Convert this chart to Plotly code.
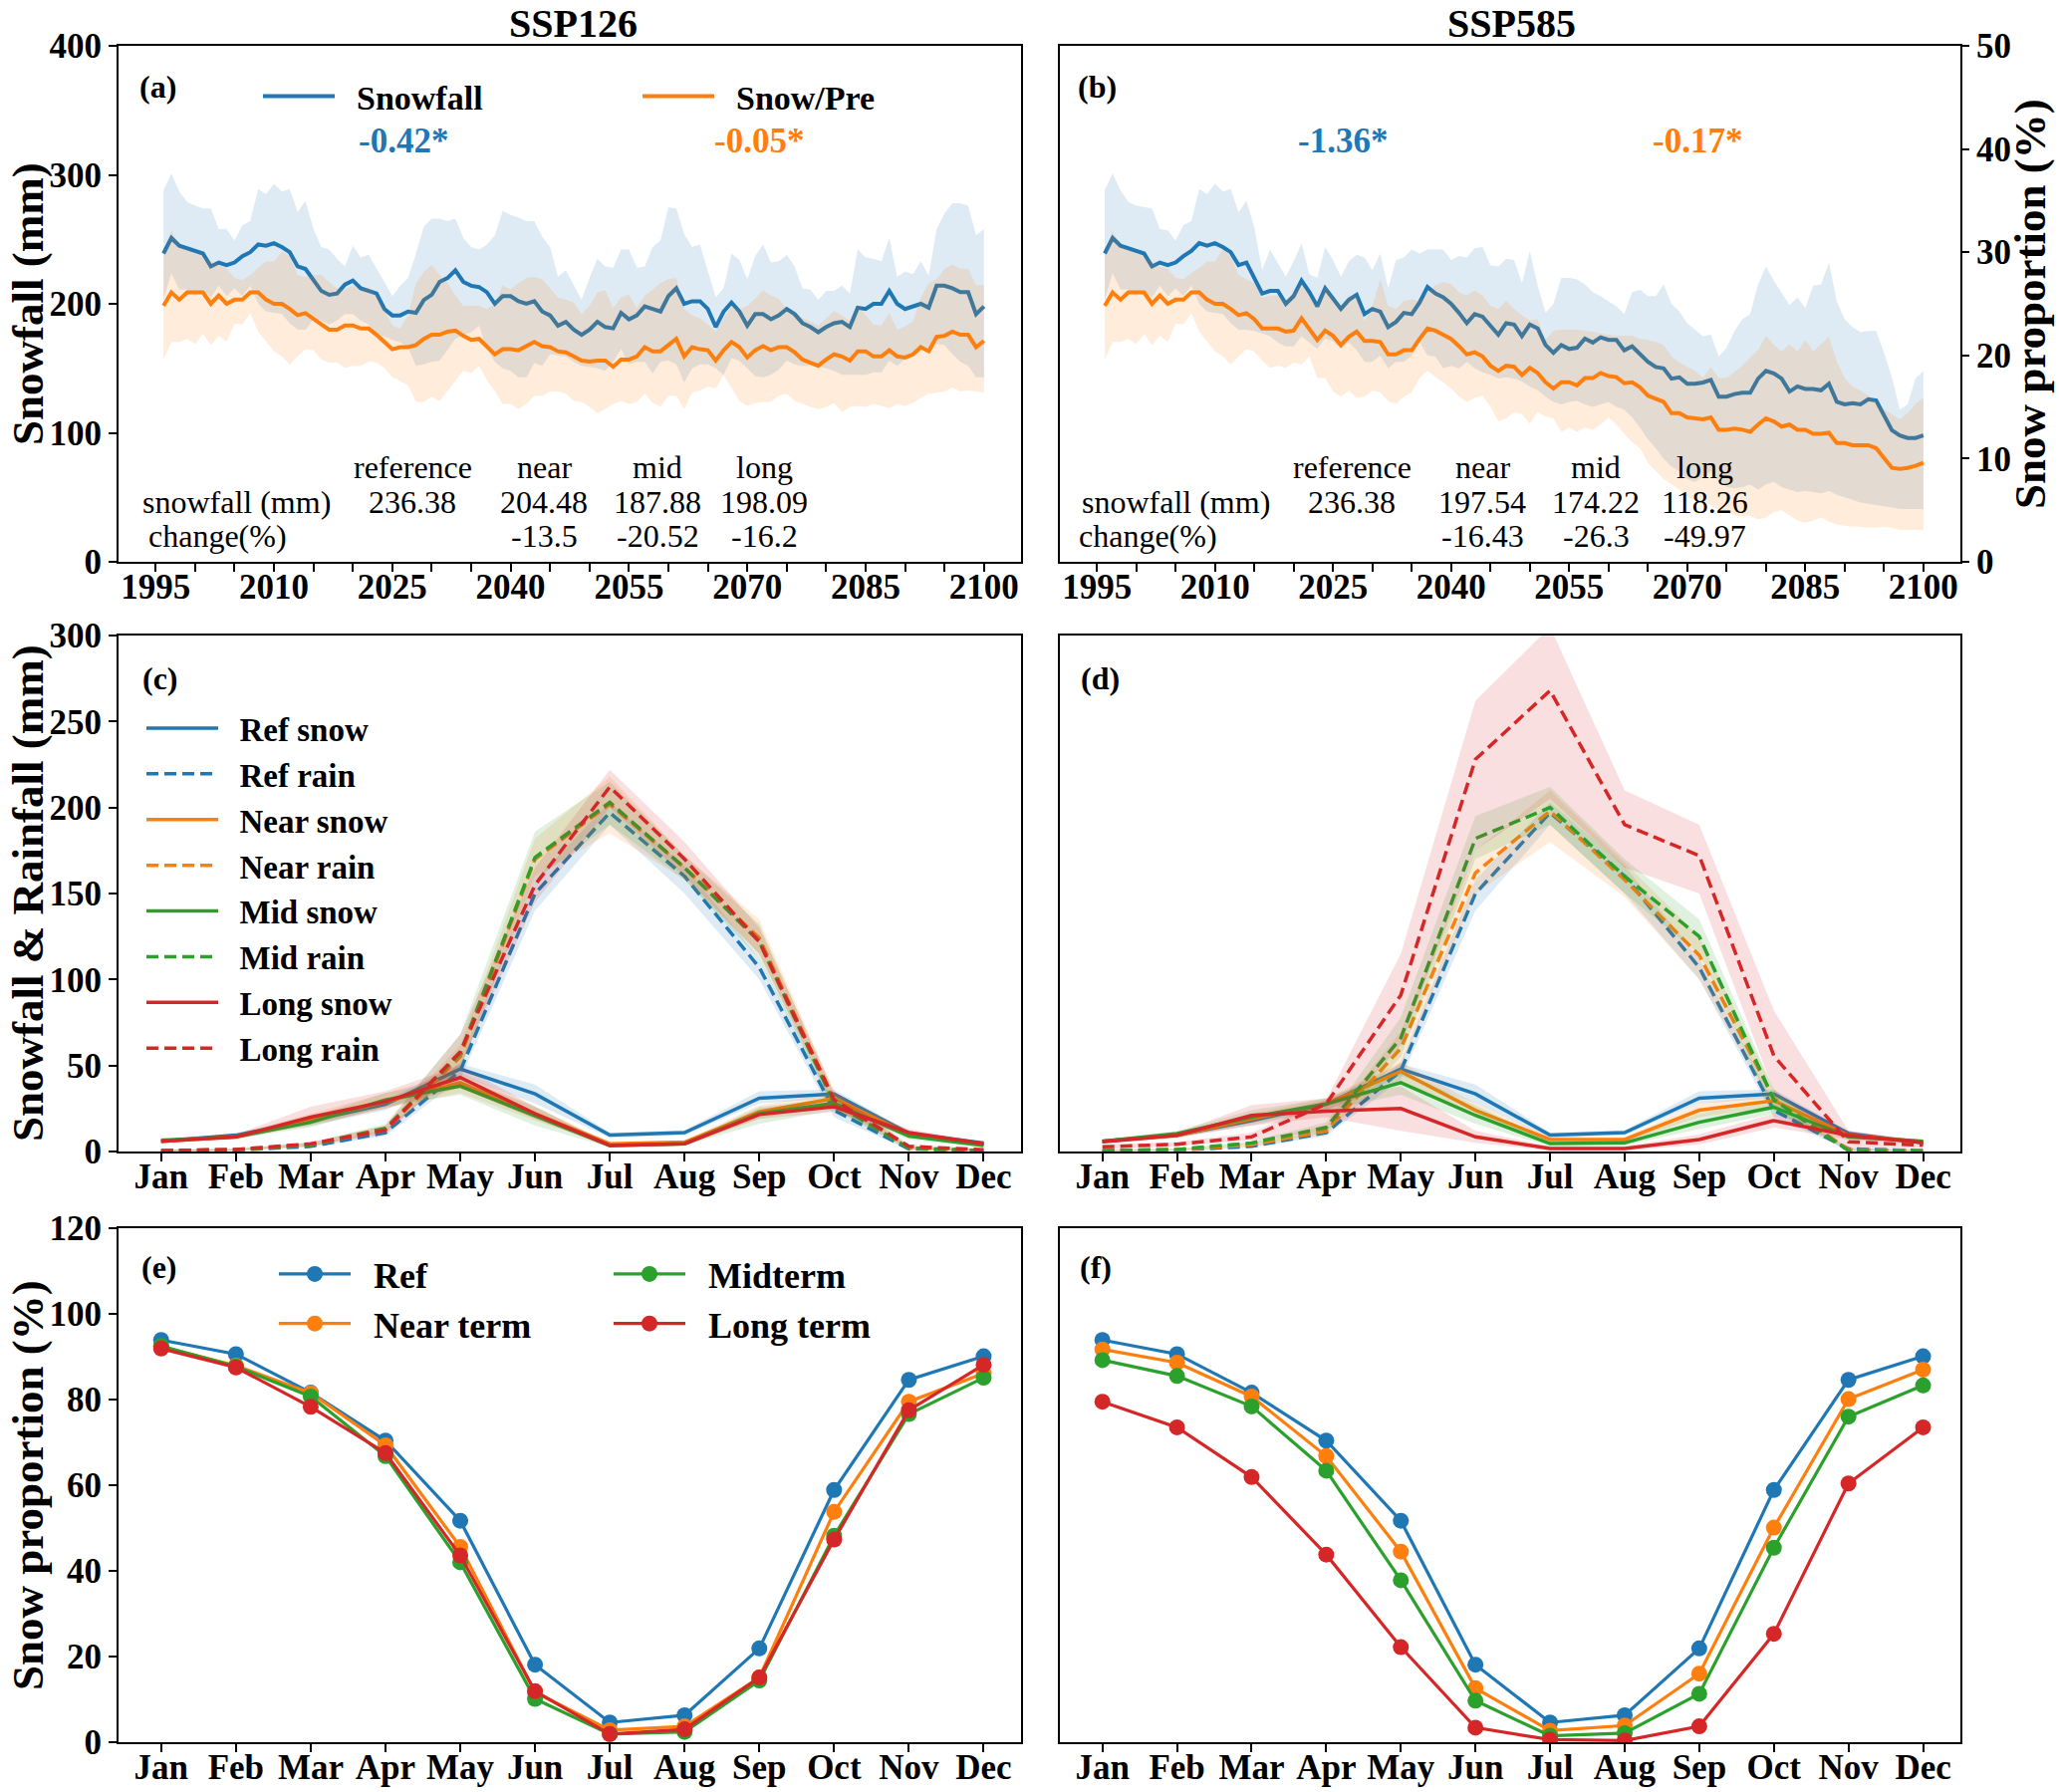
import plotly.graph_objects as go

W, H = 2067, 1799
FONT = "Liberation Serif"
C0, C1, C2, C3 = "#1f77b4", "#ff7f0e", "#2ca02c", "#d62728"

# ---------------- data ----------------
YEARS = list(range(1996, 2101))
MONTHS = ["Jan", "Feb", "Mar", "Apr", "May", "Jun", "Jul", "Aug", "Sep", "Oct", "Nov", "Dec"]
MONTH_POS = list(range(1, 13))

# (a) SSP126 annual snowfall (mm): mean / low / high
A_SNOW_MEAN = [239,251,245,243,241,239,229,232,230,232, 237,240,246,245,247,244,240,229,227,219,
               210,207,208,215,218,212,210,208,196,191, 191,194,193,203,207,217,220,226,217,214,
               213,209,200,206,206,202,200,202,194,191, 183,186,180,176,
               180,186,182,181,193,188,191,198,196,194, 206,212,200,202,202,196,182,194,201,194,
               183,192,192,188,191,196,192,185,182,178, 182,185,186,182,197,196,200,200,210,200,
               196,198,200,197,214,214,212,209,209,192, 198]
A_SNOW_HI = [288,301,287,279,276,274,274,258,258,249, 261,264,289,285,293,287,289,271,280,258,
             244,242,235,229,245,236,238,228,217,206, 214,220,239,260,266,266,264,266,251,244,
             242,246,253,272,269,267,264,264,252,244, 221,226,214,203,
             220,235,229,228,242,242,228,229,244,249, 275,274,254,244,246,225,205,212,239,234,
             219,237,246,232,233,238,229,212,211,203, 210,210,214,208,242,236,235,233,251,221,
             225,223,233,222,258,270,278,278,276,253, 258]
A_SNOW_LO = [203,224,211,211,206,211,205,214,206,212, 206,214,200,194,193,192,185,180,180,188,
             187,184,187,192,192,187,184,176,175,172, 170,166,152,153,155,156,164,173,176,178,
             183,165,155,150,148,143,143,154,152,161, 160,159,155,152,
             151,150,148,155,165,153,155,155,146,155, 156,153,139,150,153,153,150,145,158,156,
             150,144,143,145,149,156,153,152,152,152, 150,148,145,145,145,145,147,147,156,152,
             157,161,165,164,169,168,161,155,152,143, 143]
# (a) SSP126 snow / precipitation (%)
A_RATIO_MEAN = [24.8,26.1,25.4,26.1,26.1,26.1,25.0,25.8,25.0,25.4, 25.4,26.1,26.1,25.4,25.0,25.0,24.5,23.9,24.1,23.5,
                23.0,22.5,22.5,22.9,22.9,22.6,22.6,22.0,21.3,20.6, 20.8,20.8,21.0,21.6,22.0,22.0,22.3,22.4,21.9,21.5,
                21.6,20.8,20.1,20.6,20.6,20.5,20.9,21.3,20.9,20.8, 20.4,20.3,19.9,19.5,
                19.4,19.5,19.5,18.9,19.6,19.6,19.9,20.8,20.4,20.4, 21.0,21.6,19.9,20.8,20.6,20.5,19.5,20.5,21.3,20.8,
                19.8,20.5,20.9,20.5,20.8,20.8,20.3,19.6,19.3,19.0, 19.6,20.1,19.9,19.5,20.4,20.4,19.9,19.9,20.5,19.9,
                19.8,20.1,20.8,20.4,21.8,21.9,22.3,22.0,22.0,20.8, 21.4]
A_RATIO_HI = [29.6,32.1,30.5,30.3,29.9,29.6,29.1,28.8,28.4,27.5, 27.3,27.8,28.5,29.1,29.1,30.1,29.6,27.8,27.6,27.8,
              27.8,27.1,26.5,26.4,26.8,26.4,26.6,25.8,24.5,22.9, 22.6,23.9,27.0,28.1,28.8,27.8,27.0,25.8,24.8,24.8,
              24.8,24.5,25.0,26.8,26.4,27.0,27.5,27.6,27.4,26.5, 25.6,25.4,25.1,24.0,
              24.8,26.1,26.3,24.6,25.6,25.9,24.6,25.8,26.4,27.0, 27.4,27.5,24.5,23.9,23.6,23.0,22.3,23.5,24.8,24.5,
              24.8,25.5,26.3,25.8,25.5,24.5,24.3,23.6,23.3,22.9, 23.6,24.3,23.9,23.3,24.8,23.9,23.0,22.9,24.1,22.5,
              22.8,23.3,25.6,27.0,27.4,28.4,28.8,28.4,28.4,26.8, 26.8]
A_RATIO_LO = [19.6,21.3,21.3,21.6,21.1,22.1,21.0,21.9,21.3,23.1, 23.0,24.1,22.3,21.4,20.4,19.9,19.1,19.9,20.6,20.5,
              19.6,19.3,19.3,18.8,19.0,19.0,19.4,19.3,18.8,17.9, 17.5,17.1,15.5,15.5,16.0,15.6,16.5,17.5,18.5,18.3,
              19.0,17.6,16.5,15.3,15.3,14.8,15.3,16.1,16.1,16.5, 16.5,16.3,15.6,15.5,
              15.0,14.4,14.8,15.3,15.6,15.3,15.5,16.3,15.4,15.0, 16.1,16.1,14.8,16.4,16.6,17.0,16.8,18.1,16.8,15.6,
              15.1,15.4,15.5,15.5,16.1,16.3,15.6,15.3,15.0,14.8, 15.0,15.4,14.5,15.0,15.1,15.0,15.3,15.1,14.9,15.3,
              15.1,15.4,15.9,16.3,16.4,16.5,16.9,16.5,16.6,16.5, 16.4]

# (b) SSP585 annual snowfall (mm)
B_SNOW_MEAN = [239,251,245,243,241,239,229,232,230,232, 237,241,247,245,247,244,240,230,232,220,
               208,210,210,200,206,218,209,198,212,204, 196,203,207,192,196,194,182,186,193,192,
               201,213,208,205,200,193,185,192,190,183, 176,185,184,
               175,184,181,168,162,168,165,166,173,170, 174,172,172,164,167,161,155,151,150,142,
               143,138,138,139,141,128,128,130,131,131, 142,148,146,142,132,136,134,134,133,138,
               124,122,123,122,126,125,114,102,98,96, 96,98]
B_SNOW_HI = [288,301,288,279,276,275,274,258,257,249, 261,264,289,285,293,287,289,271,280,259,
             226,242,232,221,233,247,223,220,244,234, 221,233,238,236,226,239,212,234,236,242,
             239,242,242,242,234,237,236,243,244,230, 229,235,234,
             216,241,214,193,200,220,220,219,215,209, 206,202,198,192,209,211,206,206,215,200,
             194,185,180,175,176,159,166,179,188,192, 215,229,218,209,199,205,197,214,215,232,
             202,188,182,178,179,179,162,143,118,122, 142,148]
B_SNOW_LO = [203,224,211,211,206,211,205,214,206,212, 206,214,200,194,193,192,185,180,180,
             179,177,175,170,167,167,175,170,165,173, 171,165,170,164,155,155,160,150,155,155,
             160,170,160,159,150,152,150,155,150,147, 145,142,143,142,
             140,136,133,128,124,122,124,125,122,120, 122,124,120,118,112,104,95,88,80,74,
             70,64,62,66,70,62,58,57,58,60, 56,60,62,58,56,54,55,54,53,55,
             52,50,48,46,45,44,43,42,41,41, 41,41]
# (b) SSP585 snow / precipitation (%)
B_RATIO_MEAN = [24.8,26.1,25.4,26.1,26.1,26.1,25.0,25.8,25.0,25.4, 25.4,26.1,26.1,25.4,25.0,25.0,24.5,23.9,24.1,23.5,
                22.6,22.6,22.6,22.3,22.4,23.6,22.6,21.5,22.4,21.9, 21.0,21.8,22.3,21.4,21.4,21.3,20.1,20.1,20.5,20.5,
                21.6,22.6,22.4,22.0,21.6,20.9,20.1,20.3,19.9,19.0, 18.5,19.0,18.9,
                18.1,18.8,18.3,17.4,16.8,17.4,17.4,17.1,17.8,17.8, 18.3,18.0,17.9,17.3,17.4,16.9,16.1,15.8,15.5,14.4,
                14.4,14.0,13.9,13.8,14.0,12.8,12.8,12.9,12.8,12.6, 13.3,13.9,13.6,13.1,13.3,12.8,12.8,12.4,12.4,12.5,
                11.5,11.5,11.3,11.3,11.3,11.0,10.1,9.1,9.0,9.1, 9.3,9.6]
B_RATIO_HI = [29.6,32.1,30.5,30.3,29.9,29.6,29.1,28.6,28.4,27.5, 27.4,28.0,28.5,29.1,29.1,30.3,29.6,27.8,27.4,27.0,
              25.6,25.8,25.8,25.3,26.1,27.0,25.8,24.8,26.8,25.6, 24.8,25.8,25.8,23.3,24.8,27.4,24.8,24.5,25.3,25.4,
              25.3,26.1,26.8,27.1,26.9,26.1,25.8,26.3,25.8,24.8, 24.5,25.3,24.5,
              23.9,23.4,23.5,21.5,22.4,22.5,22.5,22.5,22.4,22.3, 22.1,22.0,21.9,21.9,21.9,21.6,21.5,21.3,21.0,19.9,
              19.3,18.9,18.5,17.8,18.9,17.8,17.8,18.4,19.0,19.8, 20.5,21.9,21.0,20.4,21.1,20.4,21.5,20.4,21.1,21.8,
              19.4,17.8,17.0,16.6,16.1,15.6,14.8,14.3,13.8,14.4, 15.3,15.9]
B_RATIO_LO = [19.6,21.3,21.3,21.6,21.1,22.1,21.0,21.9,21.3,23.1, 23.0,24.1,22.3,21.4,20.4,19.9,19.1,19.9,20.6,
              20.4,19.5,18.8,19.0,18.8,19.3,19.1,19.9,17.8,17.8, 16.5,16.0,16.6,15.9,16.0,16.6,16.4,15.6,15.3,16.0,
              16.4,17.8,18.5,17.9,17.4,16.8,16.0,15.5,15.9,16.1, 15.0,13.6,13.9,14.5,
              14.3,13.4,14.5,14.1,13.9,12.6,13.0,12.6,13.0,12.8, 13.3,14.0,13.3,12.4,11.6,11.0,9.6,8.8,8.0,7.5,
              7.0,6.3,6.0,5.8,5.5,5.0,4.8,4.5,4.4,4.5, 4.1,4.3,4.8,5.0,4.5,4.0,3.8,4.0,4.3,3.9,
              3.6,3.5,3.4,3.4,3.3,3.3,3.4,3.3,3.1,3.1, 3.1,3.1]

# (c)/(d) monthly snowfall & rainfall (mm)
REF_SNOW = [6, 9.5, 18, 27.5, 48, 33.5, 9.5, 11, 31, 33.5, 10.5, 5]
REF_SNOW_LO = [5, 8.5, 15, 24, 44, 28, 8, 9.5, 28, 31, 9, 4]
REF_SNOW_HI = [7, 10.5, 20, 30, 51, 39, 11, 12.5, 35, 36, 12, 6]
REF_RAIN = [0.5, 0.8, 3, 11, 47, 150, 197, 160, 107, 24, 1.5, 0.5]
REF_RAIN_LO = [0, 0.5, 2.5, 9, 42, 140, 190, 150, 100, 20, 0.8, 0]
REF_RAIN_HI = [1, 1.2, 3.5, 12.5, 52, 158, 203, 166, 112, 28, 2.2, 1]

NEAR126_SNOW = [6, 8.5, 18, 29, 40, 22, 4.5, 5.5, 23, 31, 10, 4]
NEAR126_SNOW_LO = [5, 7.5, 15, 25, 34, 18, 3.5, 4.5, 19, 28, 8.5, 3]
NEAR126_SNOW_HI = [7, 10, 22, 34, 46, 26, 5.5, 6.5, 27, 34, 12, 5]
NEAR126_RAIN = [0.5, 1, 4, 13, 55, 170, 202, 165, 124, 30, 2, 0.5]
NEAR126_RAIN_LO = [0, 0.5, 3, 11, 48, 160, 185, 158, 115, 25, 1, 0]
NEAR126_RAIN_HI = [1, 1.5, 5, 15, 62, 182, 218, 172, 135, 35, 3, 1]
MID126_SNOW = [6.5, 8.5, 17, 30, 38, 21, 3.5, 4.5, 22, 28, 9, 3.5]
MID126_SNOW_LO = [5, 7.5, 14, 26, 33, 15, 2.5, 3.5, 16, 24, 7, 2.5]
MID126_SNOW_HI = [8, 10, 20, 34, 43, 26, 4.5, 5.5, 26, 31, 11, 4.5]
MID126_RAIN = [0.5, 1, 4, 13.5, 57, 171, 203, 165, 122, 28, 2, 0.5]
MID126_RAIN_LO = [0, 0.5, 3, 12, 48, 158, 190, 158, 112, 24, 1, 0]
MID126_RAIN_HI = [1, 1.5, 5, 16, 68, 186, 215, 172, 132, 33, 3, 1]
LONG126_SNOW = [6, 8.5, 20, 29, 43, 22, 3.5, 4.5, 21.5, 26, 11, 4.5]
LONG126_SNOW_LO = [5, 7, 16, 25, 37, 19, 2.5, 3.5, 19, 23, 9, 3.5]
LONG126_SNOW_HI = [7, 10, 26, 35, 50, 26, 4.5, 5.5, 25, 30, 13, 5.5]
LONG126_RAIN = [0.5, 1.2, 4.5, 12.5, 58, 155, 212, 170, 122, 30, 3, 1]
LONG126_RAIN_LO = [0, 0.8, 3.5, 10, 50, 145, 200, 160, 115, 26, 2, 0.5]
LONG126_RAIN_HI = [1, 1.6, 5.5, 15, 68, 165, 222, 180, 130, 35, 4, 1.5]

NEAR585_SNOW = [6, 9.4, 19, 27.7, 46.5, 24, 7, 7, 24, 29.6, 9.4, 5.6]
NEAR585_SNOW_LO = [5, 8, 16, 24, 40, 20, 5.5, 5.5, 20, 26, 8, 4.5]
NEAR585_SNOW_HI = [7, 11, 22, 31, 52, 28, 8.5, 8.5, 28, 33, 11, 6.5]
NEAR585_RAIN = [0.5, 1, 4, 12, 60, 162, 198, 158, 114, 31, 1, 0.5]
NEAR585_RAIN_LO = [0, 0.5, 3, 10, 50, 150, 180, 148, 100, 25, 0, 0]
NEAR585_RAIN_HI = [1, 1.5, 5, 15, 70, 175, 210, 168, 125, 36, 2, 1]
MID585_SNOW = [6, 10.4, 20, 27.7, 40, 21, 4.6, 5, 17, 25.8, 8.5, 6]
MID585_SNOW_LO = [5, 8, 17, 24, 33, 16, 3, 3.5, 13, 22, 7, 5]
MID585_SNOW_HI = [7, 12, 24, 31, 47, 27, 6, 6.5, 22, 30, 10, 7]
MID585_RAIN = [0.5, 1.2, 5, 14, 66, 182, 200, 160, 125, 30, 0.5, 0.3]
MID585_RAIN_LO = [0, 0.7, 4, 11, 55, 170, 190, 150, 115, 24, 0, 0]
MID585_RAIN_HI = [1, 1.7, 6, 17, 78, 195, 212, 170, 135, 36, 1.5, 1]
LONG585_SNOW = [5.6, 9.4, 21, 23.5, 25, 8.5, 1.7, 1.7, 7, 18, 9.4, 5.2]
LONG585_SNOW_LO = [4.5, 8, 15, 20, 12, 5, 0.5, 0.5, 4, 14, 7, 4]
LONG585_SNOW_HI = [7, 11, 27, 31, 38, 12, 3, 3, 10, 22, 12, 6.5]
LONG585_RAIN = [2.7, 4.2, 8.5, 27.7, 91, 228, 268, 190, 172, 55.6, 5.6, 3.7]
LONG585_RAIN_LO = [1.5, 3, 6.5, 12, 62, 175, 205, 165, 150, 35, 2, 2]
LONG585_RAIN_HI = [4, 5.5, 11, 30, 115, 262, 305, 210, 190, 82, 12, 5]

# (e)/(f) monthly snow proportion (%)
REF_PROP = [93.9, 90.6, 81.6, 70.4, 51.7, 18.1, 4.6, 6.3, 21.9, 58.9, 84.6, 90.1]
E_NEAR = [92.4, 87.9, 81.5, 69.3, 45.6, 11.7, 2.8, 3.7, 15.1, 53.8, 79.5, 86.1]
E_MID = [92.5, 87.7, 80.7, 66.8, 42.0, 10.1, 1.9, 2.4, 14.4, 48.2, 76.6, 85.1]
E_LONG = [91.9, 87.5, 78.3, 67.5, 43.6, 11.9, 1.9, 3.0, 15.1, 47.3, 77.5, 88.1]
F_NEAR = [91.7, 88.6, 80.7, 66.8, 44.5, 12.6, 2.7, 3.9, 16.0, 50.1, 80.1, 87.0]
F_MID = [89.2, 85.5, 78.4, 63.4, 37.8, 9.7, 1.5, 2.1, 11.3, 45.4, 76.0, 83.3]
F_LONG = [79.5, 73.5, 61.9, 43.8, 22.2, 3.4, 0.6, 0.4, 3.7, 25.3, 60.4, 73.5]

# table texts
TABLE_HEAD = ["reference", "near", "mid", "long"]
A_TABLE_SNOW = ["236.38", "204.48", "187.88", "198.09"]
A_TABLE_CHG = ["", "-13.5", "-20.52", "-16.2"]
B_TABLE_SNOW = ["236.38", "197.54", "174.22", "118.26"]
B_TABLE_CHG = ["", "-16.43", "-26.3", "-49.97"]
A_TRENDS = ["-0.42*", "-0.05*"]
B_TRENDS = ["-1.36*", "-0.17*"]

for arr in [A_SNOW_MEAN, A_SNOW_HI, A_SNOW_LO, A_RATIO_MEAN, A_RATIO_HI, A_RATIO_LO,
            B_SNOW_MEAN, B_SNOW_HI, B_SNOW_LO, B_RATIO_MEAN, B_RATIO_HI, B_RATIO_LO]:
    assert len(arr) == len(YEARS), len(arr)

# ---------------- helpers ----------------
def rgba(h, a):
    h = h.lstrip('#')
    return "rgba(%d,%d,%d,%s)" % (int(h[0:2], 16), int(h[2:4], 16), int(h[4:6], 16), a)

def px(xp):
    return xp / W

def py(yp):
    return 1 - yp / H

fig = go.Figure()

def band(x, lo, hi, color, xa, ya, alpha=0.15):
    fig.add_trace(go.Scatter(x=list(x) + list(x)[::-1], y=list(hi) + list(lo)[::-1],
                             fill='toself', fillcolor=rgba(color, alpha), mode='lines',
                             line=dict(width=0), hoverinfo='skip', showlegend=False,
                             xaxis=xa, yaxis=ya))

def line(x, y, color, xa, ya, name=None, dash='solid', width=4, legend=None, markers=False):
    kw = dict(x=x, y=y, mode='lines+markers' if markers else 'lines',
              line=dict(color=color, width=width, dash=dash), xaxis=xa, yaxis=ya,
              name=name, showlegend=legend is not None)
    if markers:
        kw['marker'] = dict(size=16, color=color)
    if legend is not None:
        kw['legend'] = legend
    fig.add_trace(go.Scatter(**kw))

DASH = "12px,6px"
NB = "\u00a0\u00a0"

# (a)
band(YEARS, A_SNOW_LO, A_SNOW_HI, C0, 'x', 'y')
line(YEARS, A_SNOW_MEAN, C0, 'x', 'y', name=NB + 'Snowfall', legend='legend')
band(YEARS, A_RATIO_LO, A_RATIO_HI, C1, 'x', 'y2')
line(YEARS, A_RATIO_MEAN, C1, 'x', 'y2', name=NB + 'Snow/Pre', legend='legend2')
# (b)
band(YEARS, B_SNOW_LO, B_SNOW_HI, C0, 'x2', 'y3')
line(YEARS, B_SNOW_MEAN, C0, 'x2', 'y3')
band(YEARS, B_RATIO_LO, B_RATIO_HI, C1, 'x2', 'y4')
line(YEARS, B_RATIO_MEAN, C1, 'x2', 'y4')

# (c) and (d)
sets_c = [
    ("Ref", C0, REF_SNOW, REF_SNOW_LO, REF_SNOW_HI, REF_RAIN, REF_RAIN_LO, REF_RAIN_HI),
    ("Near", C1, NEAR126_SNOW, NEAR126_SNOW_LO, NEAR126_SNOW_HI, NEAR126_RAIN, NEAR126_RAIN_LO, NEAR126_RAIN_HI),
    ("Mid", C2, MID126_SNOW, MID126_SNOW_LO, MID126_SNOW_HI, MID126_RAIN, MID126_RAIN_LO, MID126_RAIN_HI),
    ("Long", C3, LONG126_SNOW, LONG126_SNOW_LO, LONG126_SNOW_HI, LONG126_RAIN, LONG126_RAIN_LO, LONG126_RAIN_HI),
]
sets_d = [
    ("Ref", C0, REF_SNOW, REF_SNOW_LO, REF_SNOW_HI, REF_RAIN, REF_RAIN_LO, REF_RAIN_HI),
    ("Near", C1, NEAR585_SNOW, NEAR585_SNOW_LO, NEAR585_SNOW_HI, NEAR585_RAIN, NEAR585_RAIN_LO, NEAR585_RAIN_HI),
    ("Mid", C2, MID585_SNOW, MID585_SNOW_LO, MID585_SNOW_HI, MID585_RAIN, MID585_RAIN_LO, MID585_RAIN_HI),
    ("Long", C3, LONG585_SNOW, LONG585_SNOW_LO, LONG585_SNOW_HI, LONG585_RAIN, LONG585_RAIN_LO, LONG585_RAIN_HI),
]
for (nm, col, s, slo, shi, r, rlo, rhi) in sets_c:
    band(MONTH_POS, slo, shi, col, 'x3', 'y5')
    line(MONTH_POS, s, col, 'x3', 'y5', name=NB + nm + ' snow', width=3.5, legend='legend3')
    band(MONTH_POS, rlo, rhi, col, 'x3', 'y5')
    line(MONTH_POS, r, col, 'x3', 'y5', name=NB + nm + ' rain', dash=DASH, width=3.5, legend='legend3')
for (nm, col, s, slo, shi, r, rlo, rhi) in sets_d:
    band(MONTH_POS, slo, shi, col, 'x4', 'y6')
    line(MONTH_POS, s, col, 'x4', 'y6', width=3.5)
    band(MONTH_POS, rlo, rhi, col, 'x4', 'y6')
    line(MONTH_POS, r, col, 'x4', 'y6', dash=DASH, width=3.5)

# (e) and (f)
line(MONTH_POS, REF_PROP, C0, 'x5', 'y7', name=NB + 'Ref', width=3.2, legend='legend4', markers=True)
line(MONTH_POS, E_NEAR, C1, 'x5', 'y7', name=NB + 'Near term', width=3.2, legend='legend4', markers=True)
line(MONTH_POS, E_MID, C2, 'x5', 'y7', name=NB + 'Midterm', width=3.2, legend='legend5', markers=True)
line(MONTH_POS, E_LONG, C3, 'x5', 'y7', name=NB + 'Long term', width=3.2, legend='legend5', markers=True)
line(MONTH_POS, REF_PROP, C0, 'x6', 'y8', width=3.2, markers=True)
line(MONTH_POS, F_NEAR, C1, 'x6', 'y8', width=3.2, markers=True)
line(MONTH_POS, F_MID, C2, 'x6', 'y8', width=3.2, markers=True)
line(MONTH_POS, F_LONG, C3, 'x6', 'y8', width=3.2, markers=True)

# ---------------- layout ----------------
XA = [px(119), px(1025)]
XB = [px(1064), px(1968)]
Y1 = [py(564), py(46)]
Y2 = [py(1156), py(638)]
Y3 = [py(1749), py(1233)]
TICKFONT = dict(family=FONT, size=35, color='black', weight='bold')

def ax(**kw):
    d = dict(showline=True, mirror=True, linecolor='black', linewidth=2, ticks='outside',
             ticklen=8, tickwidth=2, tickcolor='black', showgrid=False, zeroline=False,
             tickfont=TICKFONT, automargin=False)
    d.update(kw)
    return d

YEAR_RANGE = [1990.3, 2104.7]
MON_RANGE = [0.43, 12.5]
year_minor = dict(dtick=5, tick0=1995, ticks='outside', ticklen=8, tickwidth=2, tickcolor='black')
XSTAND = -15

layout = dict(
    width=W, height=H, margin=dict(l=0, r=0, t=0, b=0),
    paper_bgcolor='white', plot_bgcolor='white',
    xaxis=ax(domain=XA, anchor='y', range=YEAR_RANGE, tick0=1995, dtick=15, minor=year_minor,
             ticklabelstandoff=XSTAND),
    yaxis=ax(domain=Y1, anchor='x', range=[0, 400], dtick=100),
    yaxis2=dict(overlaying='y', side='right', anchor='x', range=[0, 50], showline=False,
                showticklabels=False, ticks='', showgrid=False, zeroline=False, automargin=False),
    xaxis2=ax(domain=XB, anchor='y3', range=YEAR_RANGE, tick0=1995, dtick=15, minor=year_minor,
              ticklabelstandoff=XSTAND),
    yaxis3=ax(domain=Y1, anchor='x2', range=[0, 400], ticks='', showticklabels=False),
    yaxis4=dict(overlaying='y3', side='right', anchor='x2', range=[0, 50], dtick=10,
                showline=False, ticks='outside', ticklen=8, tickwidth=2, tickcolor='black',
                showgrid=False, zeroline=False, tickfont=TICKFONT, automargin=False),
    xaxis3=ax(domain=XA, anchor='y5', range=MON_RANGE, tickvals=MONTH_POS, ticktext=MONTHS,
              ticklabelstandoff=XSTAND),
    yaxis5=ax(domain=Y2, anchor='x3', range=[0, 300], dtick=50),
    xaxis4=ax(domain=XB, anchor='y6', range=MON_RANGE, tickvals=MONTH_POS, ticktext=MONTHS,
              ticklabelstandoff=XSTAND),
    yaxis6=ax(domain=Y2, anchor='x4', range=[0, 300], ticks='', showticklabels=False),
    xaxis5=ax(domain=XA, anchor='y7', range=MON_RANGE, tickvals=MONTH_POS, ticktext=MONTHS,
              ticklabelstandoff=XSTAND),
    yaxis7=ax(domain=Y3, anchor='x5', range=[0, 120], dtick=20),
    xaxis6=ax(domain=XB, anchor='y8', range=MON_RANGE, tickvals=MONTH_POS, ticktext=MONTHS,
              ticklabelstandoff=XSTAND),
    yaxis8=ax(domain=Y3, anchor='x6', range=[0, 120], ticks='', showticklabels=False),
)

IW = 72

def leg(text_x, yp, size):
    return dict(x=px(text_x - 17 - IW - 10), y=py(yp), xanchor='left', yanchor='top',
                bgcolor='rgba(0,0,0,0)', borderwidth=0,
                font=dict(family=FONT, size=size, color='black', weight='bold'),
                itemwidth=IW, orientation='v')

layout['legend'] = leg(358, 68, 34)
layout['legend2'] = leg(739, 68, 34)
layout['legend3'] = leg(241, 703, 33)
layout['legend4'] = leg(374, 1249, 36)
layout['legend5'] = leg(710, 1249, 36)
fig.update_layout(**layout)

def ann(text, xp, yp, size, color='black', bold=False, angle=0, xanchor='center'):
    f = dict(family=FONT, size=size, color=color)
    if bold:
        f['weight'] = 'bold'
    fig.add_annotation(text=text, x=px(xp), y=py(yp), xref='paper', yref='paper',
                       showarrow=False, font=f, textangle=angle, xanchor=xanchor,
                       yanchor='middle')

# titles
ann("SSP126", 575, 24, 40, bold=True)
ann("SSP585", 1517, 24, 40, bold=True)
# axis titles
ann("Snowfall (mm)", 28, 305, 45, bold=True, angle=-90)
ann("Snowfall &amp; Rainfall (mm)", 28, 897, 45, bold=True, angle=-90)
ann("Snow proportion (%)", 28, 1491, 45, bold=True, angle=-90)
ann("Snow proportion (%)", 2038, 305, 45, bold=True, angle=-90)
# panel labels
for lab, xp, yp in [("(a)", 158, 87), ("(b)", 1101, 87), ("(c)", 161, 681),
                    ("(d)", 1104, 681), ("(e)", 160, 1272), ("(f)", 1100, 1272)]:
    ann(lab, xp, yp, 32, bold=True)
# trends
ann(A_TRENDS[0], 405, 142, 35, color=C0, bold=True)
ann(A_TRENDS[1], 762, 142, 35, color=C1, bold=True)
ann(B_TRENDS[0], 1348, 142, 35, color=C0, bold=True)
ann(B_TRENDS[1], 1704, 142, 35, color=C1, bold=True)
# tables
A_COLS = [414, 546, 660, 767]
B_COLS = [1357, 1488, 1602, 1711]
for cols, snow, chg, lab_x, ch_x in [(A_COLS, A_TABLE_SNOW, A_TABLE_CHG, 237, 218),
                                     (B_COLS, B_TABLE_SNOW, B_TABLE_CHG, 1180, 1152)]:
    for i, c in enumerate(cols):
        ann(TABLE_HEAD[i], c, 469, 32)
        ann(snow[i], c, 504, 32)
        if chg[i]:
            ann(chg[i], c, 538, 32)
    ann("snowfall (mm)", lab_x, 504, 32)
    ann("change(%)", ch_x, 538, 32)

fig.write_html("out.html", config={'displayModeBar': False},
               post_script="document.body.style.margin='0px';")
